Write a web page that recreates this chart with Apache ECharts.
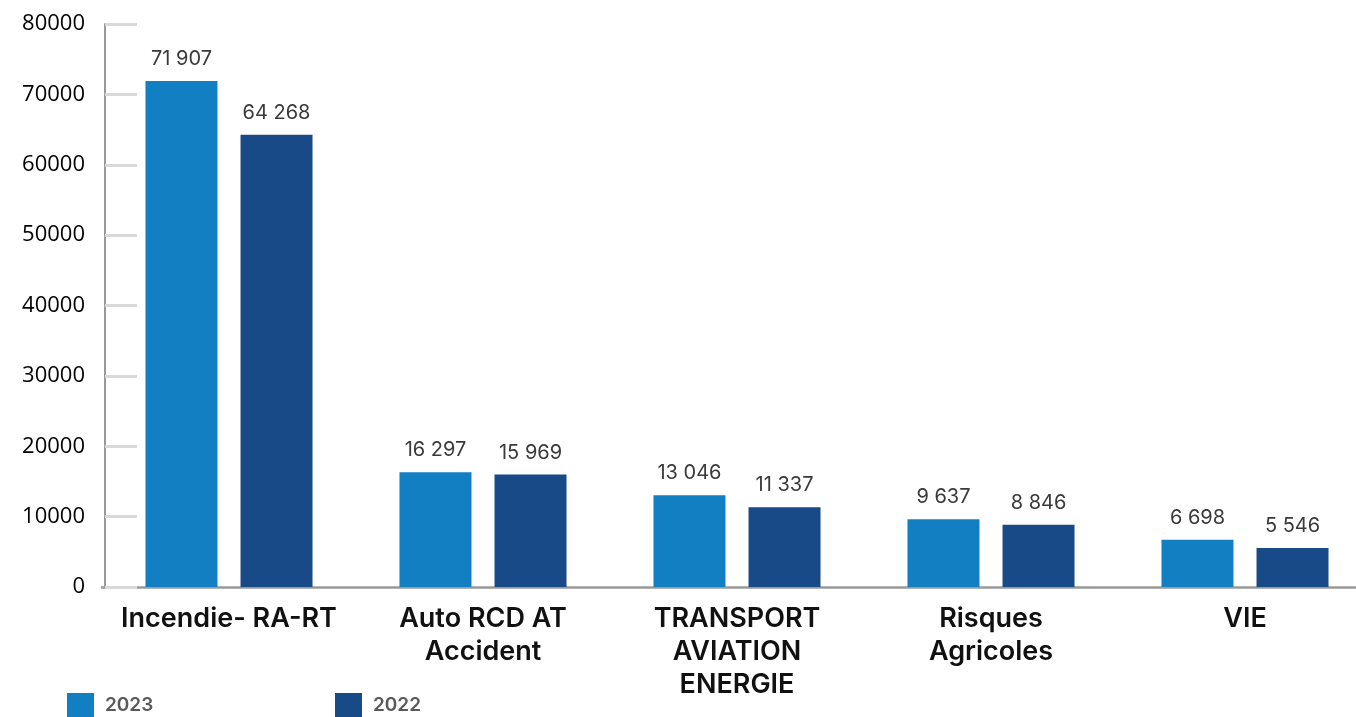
<!DOCTYPE html>
<html>
<head>
<meta charset="utf-8">
<script src="https://cdn.jsdelivr.net/npm/echarts@6/dist/echarts.min.js"></script>
<style>html,body{margin:0;padding:0;background:#fff;overflow:hidden}#c{width:1372px;height:717px}</style>
</head>
<body>
<div id="c"></div>
<script>
const categories = ['Incendie- RA-RT', 'Auto RCD AT\nAccident', 'TRANSPORT\nAVIATION\nENERGIE', 'Risques\nAgricoles', 'VIE'];
const values2023 = [71907, 16297, 13046, 9637, 6698];
const values2022 = [64268, 15969, 11337, 8846, 5546];
const seriesNames = ['2023', '2022'];
const yTicks = { min: 0, max: 80000, interval: 10000 };

const fmt = v => String(v).replace(/\B(?=(\d{3})+(?!\d))/g, ' ');
const labelCfg = {
  show: true, position: 'top', distance: 12,
  fontFamily: 'Inter', fontSize: 20, fontWeight: 400, color: '#3a3a3a',
  formatter: p => fmt(p.value)
};

const chart = echarts.init(document.getElementById('c'), null, { renderer: 'canvas' });
chart.setOption({
  animation: false,
  grid: { left: 102, right: 0, top: 24, bottom: 130, containLabel: false },
  legend: [
    { data: [seriesNames[0]], left: 67, top: 693, padding: 0, itemWidth: 27, itemHeight: 24, icon: 'rect',
      textStyle: { fontFamily: 'Inter', fontWeight: 600, fontSize: 19, color: '#595959', padding: [0, 0, 0, 6] } },
    { data: [seriesNames[1]], left: 335, top: 693, padding: 0, itemWidth: 27, itemHeight: 24, icon: 'rect',
      textStyle: { fontFamily: 'Inter', fontWeight: 600, fontSize: 19, color: '#595959', padding: [0, 0, 0, 6] } }
  ],
  xAxis: {
    type: 'category', data: categories,
    axisLine: { show: true, lineStyle: { color: '#999', width: 2.5 } },
    axisTick: { show: false },
    axisLabel: { interval: 0, margin: 15, fontFamily: 'Inter', fontWeight: 600, fontSize: 27,
      lineHeight: 33, color: '#111', align: 'center' }
  },
  yAxis: {
    type: 'value', min: yTicks.min, max: yTicks.max, interval: yTicks.interval, offset: -3,
    axisLine: { show: true, lineStyle: { color: '#999', width: 2 } },
    axisTick: { show: true, inside: true, length: 32, lineStyle: { color: '#d9d9d9', width: 3 } },
    splitLine: { show: false },
    axisLabel: { margin: 20, fontFamily: 'Open Sans', fontSize: 22, color: '#000', formatter: v => String(v) }
  },
  series: [
    { name: seriesNames[0], type: 'bar', data: values2023, barWidth: 72, barGap: '32%',
      itemStyle: { color: '#127FC3' }, label: labelCfg },
    { name: seriesNames[1], type: 'bar', data: values2022, barWidth: 72, barGap: '32%',
      itemStyle: { color: '#194A88' }, label: labelCfg }
  ]
});
</script>
</body>
</html>
